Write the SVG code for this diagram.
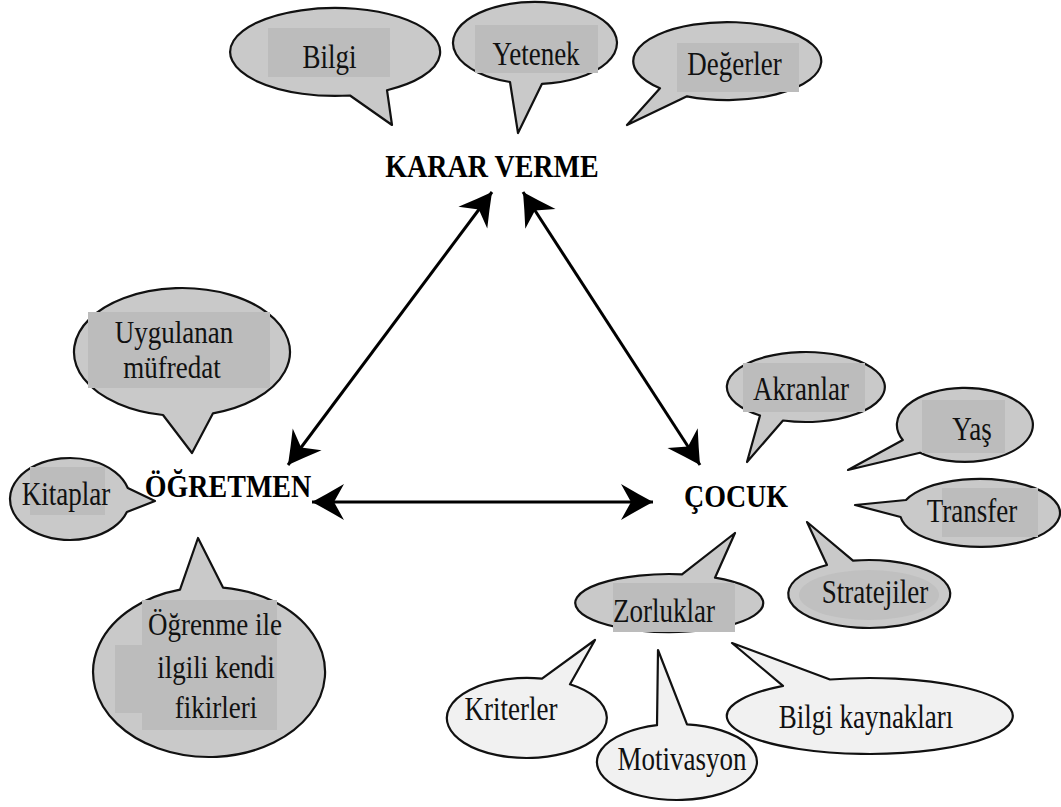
<svg xmlns="http://www.w3.org/2000/svg" width="1061" height="807" viewBox="0 0 1061 807">
<defs>
<style>
.b{fill:#c9c9c9;stroke:#111;stroke-width:2.2;stroke-linejoin:round}
.w{fill:#f1f1f1;stroke:#111;stroke-width:2.2;stroke-linejoin:round}
.r{fill:#bcbcbc;stroke:none}
.t{font-family:"Liberation Serif","Times New Roman",serif;font-size:27px;fill:#111;text-anchor:middle}
.h{font-family:"Liberation Serif","Times New Roman",serif;font-size:28px;font-weight:bold;fill:#000;text-anchor:middle}
.c{stroke:#000;stroke-width:3;fill:none;marker-start:url(#ah);marker-end:url(#ah)}
</style>
<marker id="ah" viewBox="-34 -20 36 40" refX="0" refY="0" markerWidth="36" markerHeight="40" markerUnits="userSpaceOnUse" orient="auto-start-reverse">
<path d="M0,0 Q-15,-8 -32,-18 L-22,0 L-32,18 Q-15,8 0,0 Z" fill="#000"/>
</marker>
</defs>
<rect width="1061" height="807" fill="#fff"/>

<g id="connectors">
<line class="c" x1="288" y1="465" x2="492" y2="192"/>
<line class="c" x1="700" y1="465" x2="523" y2="192"/>
<line class="c" x1="312" y1="502" x2="653" y2="502"/>
</g>

<g id="karar-verme"><text class="h" transform="translate(492,177) scale(1,1.1)">KARAR VERME</text></g>
<g id="ogretmen"><text class="h" transform="translate(228,497) scale(1,1.1)">ÖĞRETMEN</text></g>
<g id="cocuk"><text class="h" transform="translate(736,507) scale(1,1.1)">ÇOCUK</text></g>

<g id="bilgi">
<path class="b" d="M350,95.5 A105 44 0 1 1 387,90.2 L392,125 Z"/>
<rect class="r" x="268" y="28" width="122" height="49"/>
<text class="t" transform="translate(329.5,68) scale(1,1.25)">Bilgi</text>
</g>

<g id="yetenek">
<path class="b" d="M510,82 A82 41 0 1 1 542,83.8 L518,133 Z"/>
<rect class="r" x="475" y="25" width="123" height="48"/>
<text class="t" transform="translate(536,65) scale(1,1.25)">Yetenek</text>
</g>

<g id="degerler">
<path class="b" d="M660,88.3 A94 39 0 1 1 687,96.3 L627,125 Z"/>
<rect class="r" x="677" y="43" width="122" height="49"/>
<text class="t" transform="translate(734.5,75) scale(1,1.25)">Değerler</text>
</g>

<g id="uygulanan">
<path class="b" d="M163,415 A108 64 0 1 1 213,413.3 L192,453 Z"/>
<rect class="r" x="88" y="312" width="182" height="76"/>
<text class="t" transform="translate(174,343) scale(1,1.2)">Uygulanan</text>
<text class="t" transform="translate(172,378) scale(1,1.2)">müfredat</text>
</g>

<g id="kitaplar">
<path class="b" d="M126.9,512 A60 41 0 1 1 127.8,488 L155,501 Z"/>
<rect class="r" x="30" y="467" width="75" height="48"/>
<text class="t" transform="translate(66,505) scale(1,1.25)">Kitaplar</text>
</g>

<g id="ogrenme">
<path class="b" d="M223,587.6 A116 85 0 1 1 180,589.7 L198,538 Z"/>
<rect class="r" x="142" y="600" width="135" height="130"/>
<rect class="r" x="115" y="645" width="27" height="68"/>
<text class="t" transform="translate(215,635) scale(1,1.2)">Öğrenme ile</text>
<text class="t" transform="translate(216,678) scale(1,1.2)">ilgili kendi</text>
<text class="t" transform="translate(216,718) scale(1,1.2)">fikirleri</text>
</g>

<g id="akranlar">
<path class="b" d="M760,415.5 A79 35 0 1 1 783,420.5 L747,462 Z"/>
<rect class="r" x="743" y="363" width="122" height="49"/>
<text class="t" transform="translate(801,400) scale(1,1.25)">Akranlar</text>
</g>

<g id="yas">
<path class="b" d="M902.8,440 A68 37 0 1 1 920,452.7 L848,470 Z"/>
<rect class="r" x="922" y="400" width="83" height="53"/>
<text class="t" transform="translate(972,440) scale(1,1.25)">Yaş</text>
</g>

<g id="transfer">
<path class="b" d="M906,500 A80 34 0 1 1 900.6,517 L855,505 Z"/>
<rect class="r" x="942" y="488" width="96" height="49"/>
<text class="t" transform="translate(972,522) scale(1,1.25)">Transfer</text>
</g>

<g id="stratejiler">
<path class="b" d="M853,560.7 A81 34 0 1 1 827,565 L807,522 Z"/>
<ellipse cx="869" cy="595" rx="70" ry="25" fill="#c0c0c0"/>
<text class="t" transform="translate(875,603) scale(1,1.25)">Stratejiler</text>
</g>

<g id="zorluklar">
<path class="b" d="M715,577.7 A94 29 0 1 1 682,574.3 L735,533 Z"/>
<rect class="r" x="613" y="583" width="122" height="49"/>
<text class="t" transform="translate(664,622) scale(1,1.25)">Zorluklar</text>
</g>

<g id="kriterler">
<path class="w" d="M570,684.3 A80 40 0 1 1 542,678.7 L595,640 Z"/>
<text class="t" transform="translate(511,720) scale(1,1.25)">Kriterler</text>
</g>

<g id="motivasyon">
<path class="w" d="M687,724.3 A80 38 0 1 1 657,725.2 L658,650 Z"/>
<text class="t" transform="translate(682,770) scale(1,1.25)">Motivasyon</text>
</g>

<g id="bilgi-kaynaklari">
<path class="w" d="M830,679.5 A143 38 0 1 1 783,685.8 L732,643 Z"/>
<text class="t" transform="translate(866,728) scale(1,1.25)">Bilgi kaynakları</text>
</g>
</svg>
